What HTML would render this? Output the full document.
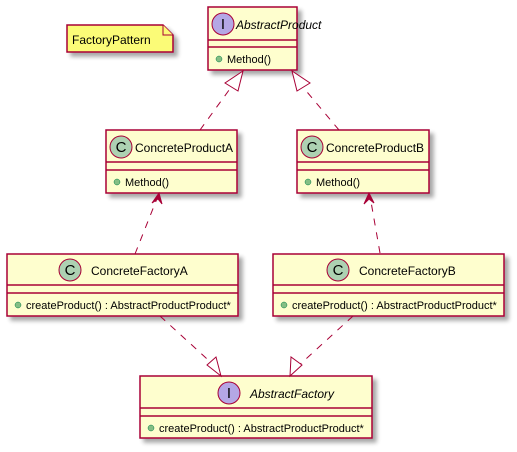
<!DOCTYPE html>
<html><head><style>body{margin:0;background:#fff}svg{display:block}</style></head><body>
<svg width="517" height="452" xmlns="http://www.w3.org/2000/svg" font-family="Liberation Sans, sans-serif">
<defs><filter id="sh" x="-10%" y="-10%" width="130%" height="140%"><feGaussianBlur in="SourceAlpha" stdDeviation="2"/><feOffset dx="4" dy="4"/><feComponentTransfer><feFuncA type="linear" slope="0.35"/></feComponentTransfer><feMerge><feMergeNode/><feMergeNode in="SourceGraphic"/></feMerge></filter></defs>
<g stroke="#A80036" stroke-width="1.5" fill="#FEFECE">
<path d="M67,25 H163 L173,35 V52 H67 Z" fill="#FBFB77" filter="url(#sh)"/>
<path d="M163,25 V35 H173" fill="#FBFB77" stroke-width="1"/>
<rect x="208" y="7" width="89" height="63" filter="url(#sh)"/>
<rect x="106" y="130" width="131" height="63" filter="url(#sh)"/>
<rect x="297" y="130" width="132" height="63" filter="url(#sh)"/>
<rect x="7" y="254" width="231" height="62" filter="url(#sh)"/>
<rect x="273" y="254" width="231" height="62" filter="url(#sh)"/>
<rect x="140" y="376" width="232" height="62" filter="url(#sh)"/>
<path d="M208,40H297M208,47H297M106,162H237M106,170H237M297,162H429M297,170H429M7,285H238M7,293H238M273,285H504M273,293H504M140,408H372M140,416H372" fill="none"/>
<g fill="none" stroke-dasharray="7,7" stroke-width="1">
<path d="M200,130L232,86M339,130L302,86M135,254L158,196M380,253L370,196M160,316L217,368M353,316L296,368"/>
</g>
<g fill="#fff" stroke-width="1">
<path d="M243,71L225,83L238,91Z"/><path d="M292,71L297,91L310,83Z"/>
<path d="M221,376L207,365L216,357Z" /><path d="M290,376L302,365L291,357Z"/>
</g>
<g fill="#A80036" stroke-width="1">
<path d="M159,193L152,203L158,199L162,204Z"/><path d="M369,193L364,204L369,199L374,203Z"/>
</g>
</g>
<g stroke="#A80036" stroke-width="1">
<circle cx="223" cy="24" r="11" fill="#B4A7E5"/>
<circle cx="121" cy="147" r="11" fill="#ADD1B2"/>
<circle cx="312" cy="147" r="11" fill="#ADD1B2"/>
<circle cx="70" cy="270" r="11" fill="#ADD1B2"/>
<circle cx="338" cy="270" r="11" fill="#ADD1B2"/>
<circle cx="229" cy="393" r="11" fill="#B4A7E5"/>
</g>
<g font-size="15" text-anchor="middle" fill="#000">
<text x="223" y="29">I</text><text x="121" y="152">C</text><text x="312" y="152">C</text><text x="70" y="275">C</text><text x="338" y="275">C</text><text x="229" y="398">I</text>
</g>
<g font-size="12" fill="#000">
<text x="72" y="44">FactoryPattern</text>
<text x="236" y="29" font-style="italic">AbstractProduct</text>
<text x="135" y="152">ConcreteProductA</text>
<text x="326" y="152">ConcreteProductB</text>
<text x="91" y="275">ConcreteFactoryA</text>
<text x="359" y="275">ConcreteFactoryB</text>
<text x="250" y="398" font-style="italic">AbstractFactory</text>
</g>
<g fill="#84BE84" stroke="#038048" stroke-width="0.5">
<circle cx="219" cy="59" r="3"/><circle cx="117" cy="182" r="3"/><circle cx="308" cy="182" r="3"/>
<circle cx="18" cy="305" r="3"/><circle cx="284" cy="305" r="3"/><circle cx="151" cy="428" r="3"/>
</g>
<g font-size="11" fill="#000">
<text x="227" y="63">Method()</text>
<text x="125" y="186">Method()</text>
<text x="316" y="186">Method()</text>
<text x="26" y="309">createProduct() : AbstractProductProduct*</text>
<text x="292" y="309">createProduct() : AbstractProductProduct*</text>
<text x="159" y="432">createProduct() : AbstractProductProduct*</text>
</g>
</svg>
</body></html>
